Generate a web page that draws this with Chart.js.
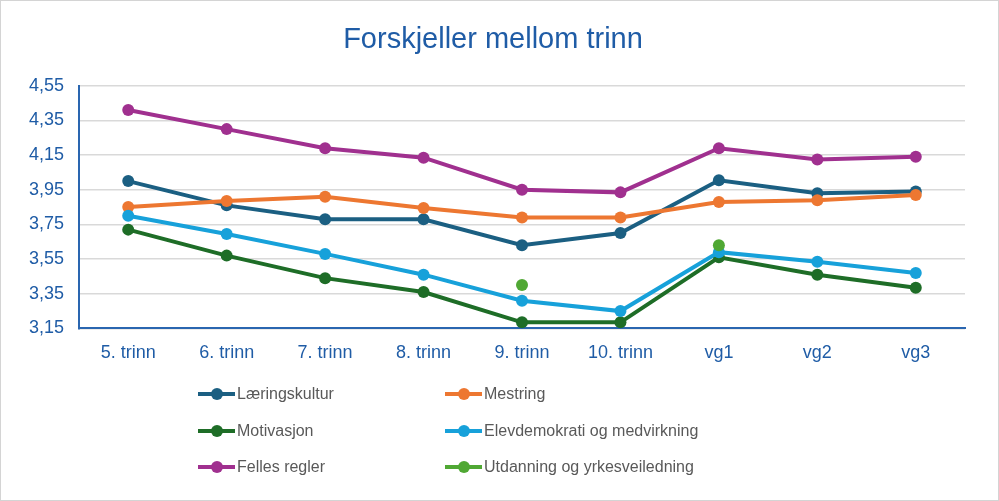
<!DOCTYPE html>
<html>
<head>
<meta charset="utf-8">
<script src="https://cdn.jsdelivr.net/npm/chart.js@4"></script>
<style>
  body { margin: 0; background: #fff; }
  #wrap {
    position: relative;
    width: 999px;
    height: 501px;
    box-sizing: border-box;
    border: 1px solid #d4d4d4;
    font-family: "Liberation Sans", Arial, sans-serif;
  }
  #chartBox { position: absolute; left: 0; top: 0; width: 997px; height: 389px; }
  #legend { position: absolute; left: 0; top: 0; width: 997px; height: 499px; pointer-events: none; }
  .item { position: absolute; display: flex; align-items: center; font-size: 16px; color: #595959; }
  .mark { position: relative; width: 37px; height: 4px; margin-right: 2px; }
  .mark i { position: absolute; left: 13px; top: -4px; width: 12px; height: 12px; border-radius: 50%; }
</style>
</head>
<body>
<div id="wrap">
  <div id="chartBox"><canvas id="myChart"></canvas></div>
  <div id="legend"></div>
</div>
<script>
/* global Chart */
const categories = ["5. trinn", "6. trinn", "7. trinn", "8. trinn", "9. trinn", "10. trinn", "vg1", "vg2", "vg3"];
const yTicks = [3.15, 3.35, 3.55, 3.75, 3.95, 4.15, 4.35, 4.55];

const laeringskultur = [4.00, 3.86, 3.78, 3.78, 3.63, 3.70, 4.005, 3.93, 3.94];
const mestring = [3.85, 3.885, 3.91, 3.845, 3.79, 3.79, 3.88, 3.89, 3.92];
const motivasjon = [3.72, 3.57, 3.44, 3.36, 3.185, 3.185, 3.56, 3.46, 3.385];
const elevdemokrati = [3.80, 3.695, 3.58, 3.46, 3.31, 3.25, 3.59, 3.535, 3.47];
const fellesRegler = [4.41, 4.30, 4.19, 4.135, 3.95, 3.935, 4.19, 4.125, 4.14];
const utdanning = [null, null, null, null, 3.40, null, 3.63, null, null];

const names = ["Læringskultur", "Mestring", "Motivasjon", "Elevdemokrati og medvirkning", "Felles regler", "Utdanning og yrkesveiledning"];
const colors = ["#1b5f82", "#ed7731", "#1e6d27", "#17a1da", "#a0308f", "#50a834"];
const series = [laeringskultur, mestring, motivasjon, elevdemokrati, fellesRegler, utdanning];

const blue = "#1f5ca6";

const datasets = series.map(function (values, i) {
  return {
    label: names[i],
    data: values,
    borderColor: colors[i],
    backgroundColor: colors[i],
    pointBackgroundColor: colors[i],
    pointBorderWidth: 0,
    pointRadius: 6,
    borderWidth: 4,
    spanGaps: false,
    // later series sit on top, like the original
    order: series.length - i,
  };
});

const ctx = document.getElementById("myChart").getContext("2d");
const myChart = new Chart(ctx, {
  type: "line",
  data: { labels: categories, datasets: datasets },
  options: {
    responsive: true,
    maintainAspectRatio: false,
    animation: false,
    layout: { padding: { left: 20, right: 33, bottom: 12 } },
    plugins: {
      legend: { display: false },
      tooltip: { enabled: false },
      title: {
        display: true,
        text: "Forskjeller mellom trinn",
        color: blue,
        font: { family: "Liberation Sans", size: 29, weight: "normal" },
        padding: { top: 22, bottom: 28 },
      },
    },
    scales: {
      x: {
        offset: true,
        grid: { display: false, drawTicks: false },
        border: { display: true, color: "#2a66b0", width: 2 },
        ticks: {
          color: blue,
          padding: 14,
          font: { family: "Liberation Sans", size: 18 },
        },
      },
      y: {
        min: yTicks[0],
        max: yTicks[yTicks.length - 1],
        afterBuildTicks: function (scale) {
          scale.ticks = yTicks.map(function (v) { return { value: v }; });
        },
        afterFit: function (scale) {
          scale.width = 58;
        },
        grid: { color: "#d9d9d9", lineWidth: 1.5, drawTicks: false },
        border: { display: true, color: "#2a66b0", width: 2 },
        ticks: {
          color: blue,
          padding: 15,
          font: { family: "Liberation Sans", size: 18 },
          callback: function (value) {
            return value.toFixed(2).replace(".", ",");
          },
        },
      },
    },
  },
});

// legend in two columns, built from the chart's datasets
const legend = document.getElementById("legend");
const colX = [197, 444];
const rowY = [393, 430, 466];
myChart.data.datasets.forEach(function (ds, i) {
  const item = document.createElement("div");
  item.className = "item";
  item.style.left = colX[i % 2] + "px";
  item.style.top = rowY[Math.floor(i / 2)] - 10 + "px";
  item.style.height = "20px";
  const mark = document.createElement("span");
  mark.className = "mark";
  mark.style.background = ds.borderColor;
  const dot = document.createElement("i");
  dot.style.background = ds.borderColor;
  mark.appendChild(dot);
  item.appendChild(mark);
  item.appendChild(document.createTextNode(ds.label));
  legend.appendChild(item);
});
</script>
</body>
</html>
